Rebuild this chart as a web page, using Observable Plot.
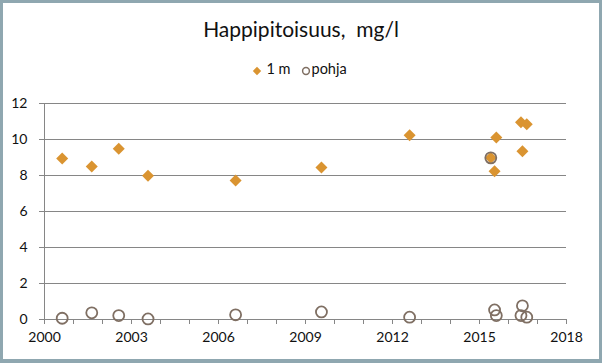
<!DOCTYPE html>
<html>
<head>
<meta charset="utf-8">
<script src="https://cdn.jsdelivr.net/npm/d3@7"></script>
<script src="https://cdn.jsdelivr.net/npm/@observablehq/plot@0.6"></script>
<style>
  html, body { margin: 0; padding: 0; background: #fff; }
  #wrap { position: relative; width: 602px; height: 363px; overflow: hidden; font-family: Lato, "Open Sans", sans-serif; background: #fff; }
  #wrap > svg { position: absolute; left: 0; top: 0; }
  #frame { position: absolute; left: 0; top: 0; width: 602px; height: 363px; box-sizing: border-box; border: 3px solid #8fa7b0; border-bottom-width: 4px; pointer-events: none; }
  #title { position: absolute; left: 0; width: 602px; top: 17.6px; text-align: center; font-size: 21px; line-height: 22px; color: #111; white-space: nowrap; }
  .leg { position: absolute; font-size: 14.5px; line-height: 16px; color: #111; white-space: nowrap; }
  .legsym { position: absolute; }
</style>
</head>
<body>
<div id="wrap">
  <div id="title">Happipitoisuus,&nbsp; mg/l</div>
  <div id="frame"></div>
</div>
<script>
// Sampling dates (decimal years)
const dates = [2000.61, 2001.63, 2002.56, 2003.57, 2006.59, 2009.55, 2012.59, 2015.39, 2015.52, 2015.58, 2016.43, 2016.48, 2016.63];
// Oxygen at 1 m depth, mg/l
const m1 = [8.94, 8.5, 9.48, 7.98, 7.72, 8.44, 10.24, 8.98, 8.24, 10.11, 10.96, 9.35, 10.85];
// Oxygen at bottom (pohja), mg/l
const pohja = [0.07, 0.37, 0.22, 0.03, 0.26, 0.42, 0.13, 8.98, 0.53, 0.22, 0.22, 0.76, 0.13];
const yTicks = [0, 2, 4, 6, 8, 10, 12];
const xTicks = [2000, 2001, 2002, 2003, 2004, 2005, 2006, 2007, 2008, 2009, 2010, 2011, 2012, 2013, 2014, 2015, 2016, 2017, 2018];
const xLabels = [2000, 2003, 2006, 2009, 2012, 2015, 2018];
const seriesNames = ["1 m", "pohja"];
const colors = ["#da9431", "#7f6f63"];

const rows1 = dates.map((d, i) => ({x: d, y: m1[i]}));
const rows2 = dates.map((d, i) => ({x: d, y: pohja[i]}));

const chart = Plot.plot({
  width: 602,
  height: 363,
  marginTop: 103,
  marginBottom: 44,
  marginLeft: 44,
  marginRight: 36,
  style: {fontFamily: "Lato, 'Open Sans', sans-serif", fontSize: "14px", color: "#111", background: "transparent"},
  x: {domain: [2000, 2018]},
  y: {domain: [0, 12]},
  marks: [
    Plot.ruleY(yTicks, {stroke: "#868686", strokeWidth: 1}),
    Plot.ruleX([2000], {y1: 0, y2: 12, stroke: "#868686", strokeWidth: 1}),
    Plot.axisY({ticks: yTicks, tickSize: 5, tickPadding: 12, stroke: "#868686", label: null, fill: "#111"}),
    Plot.axisX({ticks: xTicks, tickSize: 5, tickFormat: () => "", stroke: "#868686", label: null}),
    Plot.axisX({ticks: xLabels, tickSize: 0, tickPadding: 13, tickFormat: d => String(d), label: null, fill: "#111"}),
    Plot.dot(rows1, {x: "x", y: "y", symbol: "diamond2", r: 5.4, fill: colors[0], stroke: "none"}),
    Plot.dot(rows2, {x: "x", y: "y", symbol: "circle", r: 5.5, fill: "none", stroke: colors[1], strokeWidth: 1.8})
  ]
});
const wrap = document.getElementById("wrap");
wrap.insertBefore(chart, document.getElementById("title"));

// Legend
const ns = "http://www.w3.org/2000/svg";
const symX = [256.5, 306];
const textX = [266.5, 311.5];
seriesNames.forEach((name, i) => {
  const s = document.createElementNS(ns, "svg");
  s.setAttribute("class", "legsym");
  s.setAttribute("width", 12); s.setAttribute("height", 12);
  s.style.left = (symX[i] - 6) + "px";
  s.style.top = (70.7 - 6) + "px";
  if (i === 0) {
    const p = document.createElementNS(ns, "path");
    p.setAttribute("d", "M6,1.8 L10.2,6 L6,10.2 L1.8,6 Z");
    p.setAttribute("fill", colors[0]);
    s.appendChild(p);
  } else {
    const c = document.createElementNS(ns, "circle");
    c.setAttribute("cx", 6); c.setAttribute("cy", 6); c.setAttribute("r", 3.4);
    c.setAttribute("fill", "none"); c.setAttribute("stroke", colors[1]); c.setAttribute("stroke-width", 1.5);
    s.appendChild(c);
  }
  wrap.insertBefore(s, document.getElementById("frame"));
  const t = document.createElement("div");
  t.className = "leg";
  t.textContent = name;
  t.style.left = textX[i] + "px";
  t.style.top = "61.1px";
  wrap.insertBefore(t, document.getElementById("frame"));
});
</script>
</body>
</html>
